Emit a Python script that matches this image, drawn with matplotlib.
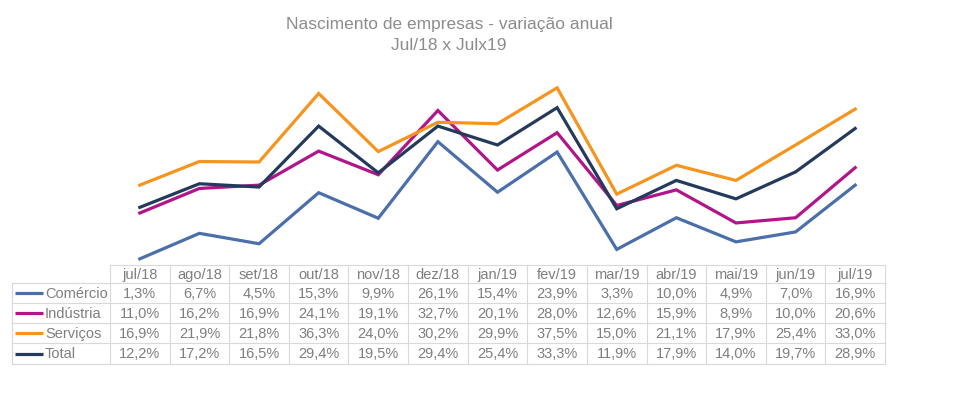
import matplotlib
matplotlib.use("Agg")
import matplotlib.pyplot as plt

plt.rcParams['font.family'] = ['Liberation Sans', 'DejaVu Sans']

# dados
meses = ["jul/18", "ago/18", "set/18", "out/18", "nov/18", "dez/18", "jan/19",
         "fev/19", "mar/19", "abr/19", "mai/19", "jun/19", "jul/19"]
comercio = [1.3, 6.7, 4.5, 15.3, 9.9, 26.1, 15.4, 23.9, 3.3, 10.0, 4.9, 7.0, 16.9]
industria = [11.0, 16.2, 16.9, 24.1, 19.1, 32.7, 20.1, 28.0, 12.6, 15.9, 8.9, 10.0, 20.6]
servicos = [16.9, 21.9, 21.8, 36.3, 24.0, 30.2, 29.9, 37.5, 15.0, 21.1, 17.9, 25.4, 33.0]
total = [12.2, 17.2, 16.5, 29.4, 19.5, 29.4, 25.4, 33.3, 11.9, 17.9, 14.0, 19.7, 28.9]

nomes = ["Comércio", "Indústria", "Serviços", "Total"]
series = [comercio, industria, servicos, total]
cores = ["#4a6faa", "#b0168a", "#f7941d", "#243a5c"]

W, H = 958, 398
fig = plt.figure(figsize=(W / 100, H / 100), dpi=100)

def px_axes(x0, y0, x1, y1):
    # retângulo em pixels (origem no topo)
    return fig.add_axes([x0 / W, 1 - y1 / H, (x1 - x0) / W, (y1 - y0) / H])

cinza = "#7f7f7f"
borda = "#d9d9d9"

# área do gráfico
tab_x0, tab_x1 = 110, 885
ax = px_axes(tab_x0, 76, tab_x1, 265)
for vals, cor in zip(series, cores):
    ax.plot(range(len(meses)), vals, color=cor, lw=2.3, solid_joinstyle='miter')
ax.set_xlim(-0.5, len(meses) - 0.5)
ax.set_ylim(0, 40)
ax.axis('off')

# título
fig.text(449 / W, 1 - 24 / H, "Nascimento de empresas - variação anual",
         ha='center', va='center', fontsize=12.5, color="#8c8c8c")
fig.text(449 / W, 1 - 45 / H, "Jul/18 x Julx19",
         ha='center', va='center', fontsize=12.5, color="#8c8c8c")

# tabela de dados
tb = px_axes(0, 0, W, H)
tb.set_xlim(0, W)
tb.set_ylim(H, 0)
tb.axis('off')

lab_x0 = 12
col_w = (tab_x1 - tab_x0) / len(meses)
linhas_y = [265, 283, 303, 323, 343, 364]
fs = 10.5

# linhas horizontais
tb.plot([tab_x0, tab_x1], [linhas_y[0]] * 2, color=borda, lw=0.8)
for y in linhas_y[1:]:
    tb.plot([lab_x0, tab_x1], [y, y], color=borda, lw=0.8)
# linhas verticais
tb.plot([lab_x0, lab_x0], [linhas_y[1], linhas_y[-1]], color=borda, lw=0.8)
for i in range(len(meses) + 1):
    x = tab_x0 + i * col_w
    tb.plot([x, x], [linhas_y[0], linhas_y[-1]], color=borda, lw=0.8)

# cabeçalho
for i, m in enumerate(meses):
    tb.text(tab_x0 + (i + 0.5) * col_w, (linhas_y[0] + linhas_y[1]) / 2 + 1, m,
            ha='center', va='center', fontsize=fs, color=cinza)

# linhas de valores
for r, (nome, vals, cor) in enumerate(zip(nomes, series, cores)):
    yc = (linhas_y[r + 1] + linhas_y[r + 2]) / 2 + 1
    tb.plot([15, 43], [yc - 1, yc - 1], color=cor, lw=2.3, solid_capstyle='butt')
    tb.text(45, yc, nome, ha='left', va='center', fontsize=fs, color=cinza)
    for i, v in enumerate(vals):
        txt = ("%.1f%%" % v).replace(".", ",")
        tb.text(tab_x0 + (i + 0.5) * col_w, yc, txt,
                ha='center', va='center', fontsize=fs, color=cinza)

fig.savefig("out.png", dpi=100, facecolor='white')
